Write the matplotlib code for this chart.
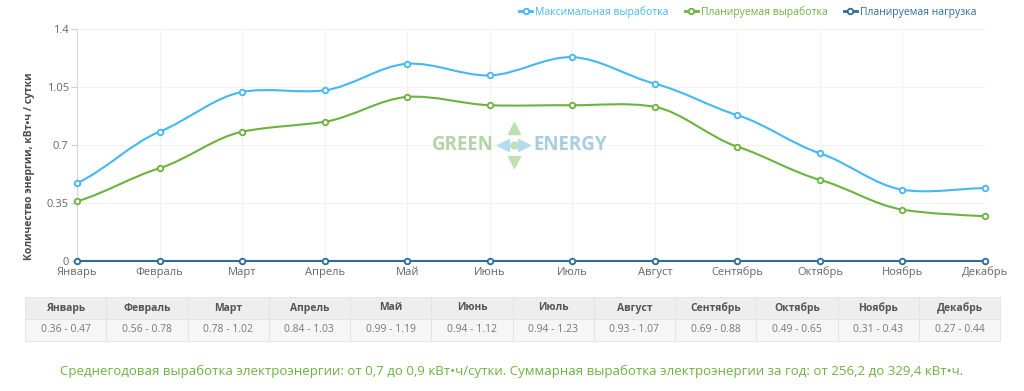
import numpy as np
import matplotlib
matplotlib.use("Agg")
import matplotlib.pyplot as plt
from matplotlib.path import Path
from matplotlib.patches import PathPatch

plt.rcParams['font.family'] = ['Open Sans', 'DejaVu Sans']

months = ["Январь", "Февраль", "Март", "Апрель", "Май", "Июнь",
          "Июль", "Август", "Сентябрь", "Октябрь", "Ноябрь", "Декабрь"]
max_output = [0.47, 0.78, 1.02, 1.03, 1.19, 1.12, 1.23, 1.07, 0.88, 0.65, 0.43, 0.44]
plan_output = [0.36, 0.56, 0.78, 0.84, 0.99, 0.94, 0.94, 0.93, 0.69, 0.49, 0.31, 0.27]
plan_load = [0] * 12
yticks = [0, 0.35, 0.7, 1.05, 1.4]
ytick_labels = ["0", "0.35", "0.7", "1.05", "1.4"]

c_max = "#43b8f2"
c_plan = "#6cb33e"
c_load = "#2b6c98"


def spline_path(xs, ys, k=0.12):
    # cubic bezier through the points, gentle tangents
    n = len(xs)
    slopes = []
    for j in range(n):
        if j == 0:
            slopes.append(2 * (ys[1] - ys[0]))
        elif j == n - 1:
            slopes.append(2 * (ys[-1] - ys[-2]))
        else:
            slopes.append(ys[j + 1] - ys[j - 1])
    verts = [(xs[0], ys[0])]
    codes = [Path.MOVETO]
    for i in range(1, n):
        dx = (xs[i] - xs[i - 1]) / 3
        verts += [(xs[i - 1] + dx, ys[i - 1] + slopes[i - 1] * k),
                  (xs[i] - dx, ys[i] - slopes[i] * k),
                  (xs[i], ys[i])]
        codes += [Path.CURVE4] * 3
    return Path(verts, codes)


fig = plt.figure(figsize=(10.24, 3.91), dpi=100)
ax = fig.add_axes([77 / 1024, 1 - 261 / 391, (985 - 77) / 1024, (261 - 29) / 391])

x = np.arange(len(months))
for vals, col, lab in [(max_output, c_max, "Максимальная выработка"),
                       (plan_output, c_plan, "Планируемая выработка"),
                       (plan_load, c_load, "Планируемая нагрузка")]:
    ax.add_patch(PathPatch(spline_path(x, vals), fill=False, edgecolor=col, lw=1.5,
                           zorder=3, clip_on=False))
    ax.plot(x, vals, linestyle="none", marker="o", ms=4, mfc="white", mec=col, mew=1.3,
            zorder=4, clip_on=False)
    ax.plot([], [], color=col, lw=2, marker="o", ms=4, mfc="white", mec=col, mew=1.3, label=lab)

ax.set_xlim(0, 11)
ax.set_ylim(0, 1.4)
ax.set_yticks(yticks)
ax.set_yticklabels(ytick_labels)
ax.set_xticks(x)
ax.set_xticklabels(months)
ax.tick_params(axis="y", length=4, color="#cccccc", labelsize=8, labelcolor="#666666", pad=2)
ax.tick_params(axis="x", length=0, labelsize=8, labelcolor="#666666", pad=4)
ax.grid(True, color="#f2f2f2", lw=0.8)
ax.set_axisbelow(True)
for s in ["top", "right", "bottom"]:
    ax.spines[s].set_visible(False)
ax.spines["left"].set_color("#d8d8d8")

ax.set_ylabel("Количество энергии, кВт•ч / сутки", fontsize=7.5, color="#4a4a4a",
              fontweight="bold")
ax.yaxis.set_label_coords(-0.046, 0.41)

leg = ax.legend(loc="lower right", bbox_to_anchor=(0.995, 1.03), ncol=3, frameon=False,
                fontsize=7.5, labelcolor="linecolor", handlelength=1.2, columnspacing=1.6,
                handletextpad=0.3, borderaxespad=0)

# watermark
ax.text(0.459, 0.50, "GREEN", transform=ax.transAxes, ha="right", va="center",
        fontsize=13.5, fontweight="bold", color="#b3d4a6")
ax.text(0.503, 0.50, "ENERGY", transform=ax.transAxes, ha="left", va="center",
        fontsize=13.5, fontweight="bold", color="#a7cde3")
ax.plot([0.481], [0.575], transform=ax.transAxes, marker="^", ms=9, color="#c0dfb3", clip_on=False)
ax.plot([0.481], [0.425], transform=ax.transAxes, marker="v", ms=9, color="#c0dfb3", clip_on=False)
ax.plot([0.4695], [0.50], transform=ax.transAxes, marker="<", ms=8, color="#b3dcf2", clip_on=False)
ax.plot([0.4925], [0.50], transform=ax.transAxes, marker=">", ms=8, color="#b3dcf2", clip_on=False)
ax.plot([0.481], [0.50], transform=ax.transAxes, marker="o", ms=5, color="#c0dfb3", clip_on=False)

# table
tax = fig.add_axes([25 / 1024, 1 - 341 / 391, (1000 - 25) / 1024, (341 - 297) / 391])
tax.axis("off")
ranges = [f"{a:.2f} - {b:.2f}" for a, b in zip(plan_output, max_output)]
tbl = tax.table(cellText=[months, ranges], cellLoc="center", bbox=[0, 0, 1, 1])
tbl.auto_set_font_size(False)
for (r, c), cell in tbl.get_celld().items():
    cell.set_edgecolor("#e2e2e2")
    cell.set_linewidth(0.6)
    if r == 0:
        cell.set_facecolor("#eeeeee")
        cell.get_text().set_fontweight("bold")
        cell.get_text().set_color("#555555")
        cell.get_text().set_fontsize(7.5)
    else:
        cell.set_facecolor("#f6f6f6")
        cell.get_text().set_color("#777777")
        cell.get_text().set_fontsize(7.5)

fig.text(0.5, 1 - 371 / 391,
         "Среднегодовая выработка электроэнергии: от 0,7 до 0,9 кВт•ч/сутки. "
         "Суммарная выработка электроэнергии за год: от 256,2 до 329,4 кВт•ч.",
         ha="center", va="center", fontsize=9.5, color="#6cb33e")

fig.savefig("out.png", dpi=100, facecolor="white")
